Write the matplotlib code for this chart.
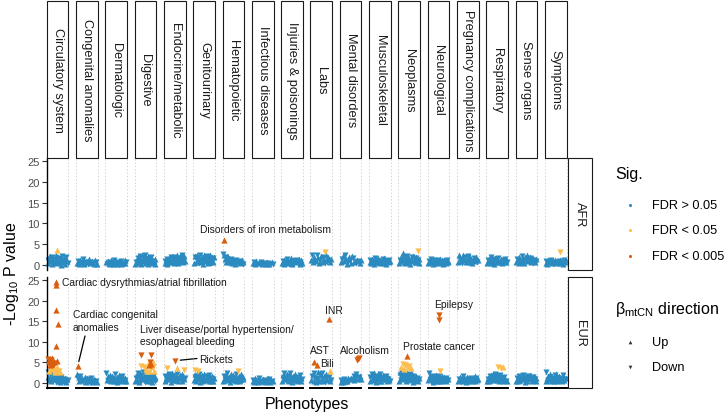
import numpy as np
import matplotlib
matplotlib.use('Agg')
import matplotlib.pyplot as plt
from matplotlib.patches import Rectangle

plt.rcParams['font.family'] = ['Liberation Sans', 'DejaVu Sans']
plt.rcParams['mathtext.fontset'] = 'custom'
plt.rcParams['mathtext.rm'] = 'Liberation Sans'
plt.rcParams['mathtext.it'] = 'Liberation Sans:italic'

categories = ['Circulatory system', 'Congenital anomalies', 'Dermatologic', 'Digestive',
              'Endocrine/metabolic', 'Genitourinary', 'Hematopoietic', 'Infectious diseases',
              'Injuries & poisonings', 'Labs', 'Mental disorders', 'Musculoskeletal',
              'Neoplasms', 'Neurological', 'Pregnancy complications', 'Respiratory',
              'Sense organs', 'Symptoms']
ancestries = ['AFR', 'EUR']

# non-significant phenotypes, signed -log10 P (sign = direction of beta_mtCN), in phecode order
afr_ns = [
    [0.4, -1.2, 1.8, -0.6, 2.1, 0.9, -1.5, 0.3, -2.0, 1.1, 0.7, -0.2, 1.6, -0.9, 2.3, 0.5, -1.3, 1.9, -0.4, 0.8, -1.7, 1.2, 0.1, -2.2, 1.4, -0.7, 0.6, 1.7, -1.0, 0.3, -1.9, 1.3, 0.9, -0.5],
    [0.5, -0.9, 0.3, 1.2, -0.6, 0.8, -1.4, 0.4, 0.2, -0.7, 1.0, 0.6, -0.3, 1.5, -0.8, 0.4, 0.9, -0.5, 0.2, 1.1, -0.6, 0.3],
    [0.6, -0.3, 1.0, 0.4, -0.8, 0.2, 1.1, -0.5, 0.7, 0.3, -1.2, 0.5, 0.9, -0.4, 0.2, 0.8, -0.6, 1.0, 0.3, -0.9, 0.6, 0.4, -0.2, 1.1, 0.5, -0.7],
    [0.3, -0.8, 1.2, 0.5, -1.6, 1.9, 0.7, -2.2, 1.4, 0.2, -1.0, 2.5, 0.9, -1.8, 1.3, 0.4, -2.4, 1.7, 0.6, -1.1, 2.1, 0.3, -1.5, 1.0, 0.8, -2.0, 1.6, 0.5, -0.7, 1.2, 0.9, -0.4, 1.4, 0.2],
    [0.4, -0.9, 1.1, 0.3, -1.4, 0.7, 1.6, -0.5, 1.2, -1.8, 0.6, 0.9, -1.3, 1.9, 0.4, -2.0, 1.5, 0.8, -1.1, 2.3, 0.5, -1.7, 1.4, 2.1, -0.6, 1.0, -2.4, 1.8, 0.7, -1.2, 2.2, 0.9],
    [0.5, -1.9, 2.2, 0.8, -1.4, 2.4, 1.1, -0.4, 1.7, -2.3, 0.6, 1.3, -0.9, 2.0, 0.3, -1.6, 2.5, 1.0, -0.7, 1.9, -2.1, 0.4, 1.5, -1.2, 2.3, 0.8, -0.5, 1.8, 1.2, -1.6, 0.6, 2.0],
    [-2.6, 2.3, 1.4, -1.9, 0.6, 2.1, -1.2, 0.8, 1.7, -0.4, 1.1, -1.5, 0.5, 1.3, -0.9, 1.0, 0.3, -1.2, 0.7, 1.1, -0.5, 0.9, 0.4, -1.0, 0.6, 1.2, -0.3, 0.8],
    [0.4, -0.7, 0.2, 0.9, -0.3, 0.6, 0.5, -0.8, 0.3, 0.7, -0.4, 0.2, 0.6, -0.5, 0.3, -0.2, 0.8, -0.3],
    [0.5, -1.0, 0.3, 1.3, -0.6, 0.8, -1.5, 0.4, 1.1, -0.3, 0.7, 1.6, -0.9, 0.2, 1.2, -0.5, 0.9, -1.3, 0.6, 1.0, -0.4, 1.4, 0.3, -0.8, 1.1, 0.5],
    [1.2, -2.3, 0.6, 2.0, -1.0, 0.9, -2.5, 1.6, 0.4, -1.3, 2.2, 0.7, -1.8, 1.1, -0.5, 2.4, 1.4, -0.8, 1.9, -1.1, 0.6, 1.5],
    [0.6, -1.4, 2.2, 0.9, -2.5, 1.5, 0.3, -0.8, 1.9, -1.2, 0.5, 2.1, -1.6, 0.7, 1.0, -0.4, 1.3, -0.9, 0.5, 1.1],
    [0.6, -1.1, 0.4, 1.5, -0.8, 1.2, 0.3, -1.6, 0.9, 1.4, -0.5, 0.7, 1.7, -1.0, 0.4, 1.3, -0.6, 1.1, 0.8, -1.4, 0.5, 1.6, -0.9, 0.3, 1.2, -0.7, 1.0, 0.6, -1.3, 0.9],
    [0.5, -1.3, 0.9, 1.8, -0.6, 1.2, 2.8, -1.9, 0.8, 0.4, -1.5, 1.1, -2.1, 0.7, 1.6, -0.9, 0.3, 1.4, -1.8, 1.0, 2.2, -0.5, 1.3, 0.6, -1.7, 1.9, 0.8, -1.1, 1.5, 0.4],
    [0.4, -0.9, 1.2, 0.6, -1.4, 0.8, 0.3, -1.1, 1.3, 0.5, -0.7, 1.0, 0.9, -1.3, 0.4, 1.4, -0.6, 0.8, 1.1, -0.5, 0.3, 1.2, -1.0, 0.7, 0.5, -1.2, 0.9, 0.6],
    [0.6, 2.3, -1.2, 0.9, 1.7, -0.5, 2.4, 1.1, -1.9, 0.7, 1.4, -2.2, 0.8, 1.9, -1.0, 0.5, 1.3, -1.6, 0.9, 2.0, -0.7, 1.2],
    [0.5, -1.2, 0.9, 1.5, -0.7, 0.4, -1.8, 1.1, 0.8, -1.4, 0.3, 1.6, -0.9, 0.6, 1.3, -1.7, 0.7, 1.0, -0.5, 1.5, 0.4, -1.1, 1.2, 0.8, -1.5, 0.6, 1.4, -0.8],
    [0.6, -1.5, 1.1, 0.4, 1.9, -0.8, 1.3, -2.1, 0.7, 1.6, -1.0, 0.5, 1.8, -1.3, 0.9, 2.5, 1.4, -0.6, 2.0, -1.7, 0.8, 1.2, -0.4, 1.7, -1.1, 0.6, 1.5, -0.9],
    [0.5, -0.9, 0.3, 1.1, -0.6, 0.8, -1.2, 0.4, 1.0, -0.3, 0.7, 1.3, -0.8, 0.5, 0.9, -1.0, 0.4, 1.2, -0.6, 0.8, 0.3, -1.1, 0.6, 1.3],
]

eur_ns = [
    [1.4, -2.6, 2.8, 0.8, -2.2, 1.5, 0.4, -1.9, 2.5, 1.1, -0.6, 1.7, -2.3, 0.9, 1.3, -0.2, 2.0, -1.2, 0.6, 1.6, -1.8, 0.3, 1.0, -1.5, 0.7, 1.4, -0.4, 1.2, 0.5, -1.0, 0.8, 1.1, -0.6, 0.3, 0.9, -0.8],
    [2.3, -0.9, 1.4, 0.4, -1.8, 0.7, 1.1, -0.3, 0.9, 1.5, -0.6, 0.2, 1.2, -1.0, 0.5, 0.8, -1.3, 0.3, 0.6, -0.4, 1.0, 0.7, -0.5, 0.3],
    [-2.4, 0.8, 1.6, -0.5, 1.1, 2.0, -1.3, 0.4, 1.7, -0.9, 0.6, 1.3, -2.1, 0.9, 0.3, 1.5, -0.7, 1.9, 0.5, -1.2, 1.0, 0.7, -1.6, 1.4, 0.4, -0.8, 1.1, 0.6],
    [0.5, -1.3, 2.1, 0.8, -2.5, 1.6, 0.3, -1.9, 2.4, 1.1, -0.6, 1.8, -2.6, 0.9, 1.4, -0.3, 2.2, -1.1, 0.7, 1.7, -2.0, 0.4, 1.2, -1.5, 2.3, 0.6, -0.9, 1.5, 0.3, -1.8, 1.0, 2.0, -0.5, 1.3],
    [0.6, -1.6, 1.2, 2.3, -0.4, 1.8, 0.9, -2.1, 1.4, 0.3, -1.1, 2.5, 0.7, -1.7, 1.0, 2.0, -0.5, 1.5, 0.8, -2.2, 1.3, 0.4, -0.9, 1.9, 1.1, -1.4, 0.6, 2.1, -0.7, 1.6, 0.9, -1.2],
    [0.7, -1.4, 2.1, 0.4, -1.8, 1.2, 0.9, -2.3, 1.6, 0.3, -1.0, 1.9, 0.6, -1.5, 1.3, 2.2, -0.5, 1.0, 0.8, -1.7, 1.4, 0.4, -2.0, 1.1, 0.6, -1.2, 1.8, 0.5, -0.9, 1.3],
    [0.5, -1.6, 2.0, 1.2, -0.4, 1.7, -2.4, 0.8, 1.4, -1.0, 0.3, 2.2, -1.3, 0.7, 1.9, -0.6, 1.1, 1.5, -2.1, 0.4, 1.3, -0.8, 1.8, 0.6, -1.2, 1.0, 2.1, -0.5, 0.9, 1.4],
    [0.4, -0.8, 0.2, 1.1, -0.5, 0.7, 0.3, -1.2, 0.6, 0.9, -0.3, 0.5, 1.0, -0.7, 0.2, 0.8, -0.4, 0.6, 1.2, -0.9, 0.3, 0.7, -0.5, 0.4],
    [0.6, -1.3, 1.9, -2.4, 0.9, 1.5, -0.5, 2.1, 1.2, -1.7, 0.4, -2.4, 1.0, 1.6, -0.8, 0.3, 1.8, -1.2, 0.7, 2.2, -1.5, 1.1, 0.5, -0.9, 1.4, 0.8, -1.9, 1.2, 0.6, -1.0],
    [0.8, -1.7, 2.2, 0.5, -2.5, 1.4, 0.3, -1.1, 2.6, -0.6, 0.4, -2.1, 1.9, 0.9, -2.4, 0.5, 1.6, -0.3, 2.3, -1.2, 0.7, 2.0, -1.5, 0.4, 1.2, -0.8],
    [0.3, -0.7, 0.5, 0.2, -0.9, 0.4, 0.8, -0.3, 0.6, 1.1, -0.5, 0.9, 1.3, -0.8, 1.5, 0.7, -1.6, 1.2, -2.2, 1.9, 0.9, -1.4, 1.7, 1.0],
    [0.5, -1.4, 1.9, 0.8, -2.2, 1.2, 2.4, -0.6, 1.6, 0.3, -1.8, 1.0, 2.1, -0.9, 1.4, 0.6, -2.3, 1.7, 0.4, -1.1, 1.3, 2.0, -0.7, 0.9, 1.5, -1.6, 0.5, 1.8, -1.0, 0.7, 1.2, -0.4],
    [0.6, -2.0, 2.6, 1.3, -0.8, 2.3, 1.7, -2.5, 0.9, 1.9, -1.4, 2.2, 0.4, -1.8, 2.4, 1.1, -0.6, 2.0, 1.5, -2.3, 0.7, 1.6, -1.2, 2.1, 0.3, -1.7, 1.4, 1.0, -0.5, 1.8, 0.8, -1.3, 1.2, 0.5, -0.9, 1.1],
    [0.7, -2.5, 1.4, 1.9, -0.5, 1.1, 0.3, -1.7, 1.6, 0.8, -1.2, 2.0, 0.4, -1.4, 1.0, 0.6, -1.8, 1.3, 0.5, -0.9, 1.7, 1.1, -0.4, 1.5, 0.8, -1.3, 0.6, 1.2, -0.7, 0.9],
    [0.4, -1.0, 0.7, 1.4, -0.3, 0.9, -1.6, 0.5, 1.2, -0.6, 0.3, 1.5, -0.9, 0.6, 1.1, -0.4, 0.8, -1.3, 0.5, 1.0, -0.7, 1.6, 0.4, -1.1, 0.7, 0.9],
    [0.4, -0.9, 1.3, 0.6, -1.7, 1.0, 2.0, -0.5, 1.5, 2.3, -1.2, 0.8, 1.9, -2.2, 1.4, 0.7, 2.1, -1.6, 1.1, 0.5, -1.9, 1.7, 0.9, -1.3, 1.2, 0.6, -1.5, 0.8, 1.0, -0.4, 0.7, 0.5],
    [0.6, -1.3, 1.1, 0.4, -1.8, 1.5, 0.8, -0.5, 1.7, -2.0, 0.9, 1.3, -0.7, 0.3, 1.9, -1.1, 0.6, 1.4, -1.6, 1.0, 2.0, -0.8, 0.5, 1.2, -1.4, 0.7, 1.8, -0.9, 1.1, 0.6],
    [0.5, -2.6, 1.2, 1.8, -0.7, 1.0, 2.1, -1.4, 0.4, 1.6, -0.9, 1.3, 0.6, -1.9, 0.9, 2.2, -1.1, 0.5, 1.4, -0.6, 1.7, 0.8, -1.3, 1.1, 0.4, -2.0, 1.5, 0.7, -1.0, 1.2],
]

# significant phenotypes: (category, rank within category 0-1, signed -log10 P, FDR level 1: <0.05, 2: <0.005)
afr_sig = [
    ('Circulatory system', 0.47, 3.7, 1),
    ('Hematopoietic', 0.03, 6.1, 2),
    ('Labs', 0.67, -3.2, 1),
    ('Neoplasms', 0.95, -3.3, 1),
    ('Symptoms', 0.73, -3.1, 1),
]

eur_sig = [
    ('Circulatory system', 0.43, 24.5, 2), ('Circulatory system', 0.43, 23.7, 2),
    ('Circulatory system', 0.43, 17.6, 2), ('Circulatory system', 0.53, 14.2, 2),
    ('Circulatory system', 0.41, 8.9, 2), ('Circulatory system', 0.02, -5.9, 2),
    ('Circulatory system', 0.08, 5.3, 2), ('Circulatory system', 0.15, -5.6, 2),
    ('Circulatory system', 0.20, 4.7, 2), ('Circulatory system', 0.27, -4.4, 2),
    ('Circulatory system', 0.33, 5.0, 2), ('Circulatory system', 0.48, 5.3, 2),
    ('Circulatory system', 0.12, 4.3, 2), ('Circulatory system', 0.38, -4.8, 2),
    ('Circulatory system', 0.05, -4.6, 2), ('Circulatory system', 0.22, 6.0, 2),
    ('Circulatory system', 0.05, 3.0, 1), ('Circulatory system', 0.18, 3.7, 1),
    ('Circulatory system', 0.25, -2.8, 1), ('Circulatory system', 0.30, 3.4, 1),
    ('Circulatory system', 0.40, -3.0, 1), ('Circulatory system', 0.45, 4.0, 1),
    ('Circulatory system', 0.50, 3.2, 1), ('Circulatory system', 0.35, 2.7, 1),
    ('Circulatory system', 0.10, -3.6, 1), ('Circulatory system', 0.58, -3.0, 1),
    ('Circulatory system', 0.62, 2.6, 1),
    ('Congenital anomalies', 0.05, 4.2, 2),
    ('Digestive', 0.27, -6.7, 2), ('Digestive', 0.77, -6.7, 2), ('Digestive', 0.74, -5.2, 2),
    ('Digestive', 0.78, 4.6, 2), ('Digestive', 0.70, 4.3, 2),
    ('Digestive', 0.28, -4.1, 1), ('Digestive', 0.45, -3.8, 1), ('Digestive', 0.51, 3.4, 1),
    ('Digestive', 0.62, 4.6, 1), ('Digestive', 0.68, 3.0, 1), ('Digestive', 0.86, 5.0, 1),
    ('Digestive', 0.88, -4.0, 1), ('Digestive', 0.58, 2.9, 1), ('Digestive', 0.92, 2.8, 1),
    ('Digestive', 0.80, -3.3, 1),
    ('Endocrine/metabolic', 0.13, -3.7, 1), ('Endocrine/metabolic', 0.50, -5.4, 2),
    ('Endocrine/metabolic', 0.63, 3.7, 1), ('Endocrine/metabolic', 0.95, -3.1, 1),
    ('Genitourinary', 0.04, -3.1, 1), ('Genitourinary', 0.20, -3.0, 1),
    ('Hematopoietic', 0.72, -3.0, 1),
    ('Labs', 0.15, 5.0, 2), ('Labs', 0.30, 4.4, 2), ('Labs', 0.92, 2.8, 1), ('Labs', 0.87, 15.5, 2),
    ('Mental disorders', 0.80, -5.5, 2), ('Mental disorders', 0.86, -5.9, 2),
    ('Mental disorders', 0.92, -6.0, 2),
    ('Neoplasms', 0.38, 6.5, 2),
    ('Neoplasms', 0.10, 4.0, 1), ('Neoplasms', 0.20, -4.6, 1), ('Neoplasms', 0.30, -4.3, 1),
    ('Neoplasms', 0.40, 4.6, 1), ('Neoplasms', 0.50, -4.2, 1), ('Neoplasms', 0.58, 3.6, 1),
    ('Neoplasms', 0.25, 3.5, 1), ('Neoplasms', 0.45, 3.8, 1),
    ('Neurological', 0.53, -16.5, 2), ('Neurological', 0.53, -15.3, 2),
    ('Neurological', 0.57, -3.0, 1),
    ('Respiratory', 0.55, -3.8, 1), ('Respiratory', 0.72, -3.7, 1), ('Respiratory', 0.78, 3.9, 1),
]

sig_colors = {0: '#2B8BC0', 1: '#FDBE4F', 2: '#D95F0E'}
sig_labels = ['FDR > 0.05', 'FDR < 0.05', 'FDR < 0.005']

# ---- layout (pixels) ----
W, H = 726, 414
PL, PSTEP, PW = 46.7, 29.3, 21.7
row_top = {'AFR': 159, 'EUR': 278}
row_bot = {'AFR': 271, 'EUR': 389}
YLIM = (-1.22, 25.73)
XLIM = (-0.04, 1.04)


def fx(x):
    return x / W


def fy(y):
    return 1 - y / H


def draw_points(ax, x, vals, lvl):
    vals = np.asarray(vals, dtype=float)
    x = np.asarray(x, dtype=float)
    up = vals >= 0
    for m, mask in (('^', up), ('v', ~up)):
        if mask.any():
            ax.scatter(x[mask], np.abs(vals[mask]), marker=m, s=19 if lvl == 0 else 20,
                       color=sig_colors[lvl], linewidths=0, clip_on=False, zorder=2 + lvl)


fig = plt.figure(figsize=(W / 100, H / 100), dpi=100)

axes = {}
for anc, ns, sig in (('AFR', afr_ns, afr_sig), ('EUR', eur_ns, eur_sig)):
    for i, cat in enumerate(categories):
        x0 = PL + i * PSTEP
        ax = fig.add_axes([fx(x0), fy(row_bot[anc]), PW / W, (row_bot[anc] - row_top[anc]) / H])
        axes[(anc, cat)] = ax
        ax.set_xlim(*XLIM)
        ax.set_ylim(*YLIM)
        for xv in XLIM:
            ax.axvline(xv, color='#c8c8c8', lw=0.6, ls=(0, (1.5, 2.5)), clip_on=False, zorder=0)
        vals = ns[i]
        draw_points(ax, np.linspace(0, 1, len(vals)), vals, 0)
        for lvl in (1, 2):
            pts = [(r, v) for c, r, v, l in sig if c == cat and l == lvl]
            if pts:
                draw_points(ax, [p[0] for p in pts], [p[1] for p in pts], lvl)
        for s in ax.spines.values():
            s.set_visible(False)
        ax.set_xticks([])
        ax.patch.set_alpha(0)
        if i == 0:
            ax.spines['left'].set_visible(True)
            ax.spines['left'].set_linewidth(1.0)
            ax.spines['left'].set_color('black')
            ax.set_yticks([0, 5, 10, 15, 20, 25])
            ax.tick_params(axis='y', length=3.5, width=0.8, color='#333333',
                           labelcolor='#4d4d4d', labelsize=8, pad=1.5)
        else:
            ax.set_yticks([])
        if anc == 'EUR':
            ax.spines['bottom'].set_visible(True)
            ax.spines['bottom'].set_linewidth(1.4)
            ax.spines['bottom'].set_color('black')

# ---- strips ----
for i, cat in enumerate(categories):
    x0 = PL + i * PSTEP
    fig.add_artist(Rectangle((fx(x0), fy(159)), PW / W, 157 / H, transform=fig.transFigure,
                             fill=False, ec='#1a1a1a', lw=0.8))
    fig.text(fx(x0 + PW / 2), fy(80.5), cat, rotation=-90, ha='center', va='center',
             fontsize=9.2, color='#1a1a1a')
for anc in ancestries:
    fig.add_artist(Rectangle((fx(568), fy(row_bot[anc])), 24 / W,
                             (row_bot[anc] - row_top[anc]) / H, transform=fig.transFigure,
                             fill=False, ec='#1a1a1a', lw=0.8))
    fig.text(fx(580), fy((row_top[anc] + row_bot[anc]) / 2), anc, rotation=-90,
             ha='center', va='center', fontsize=9.2, color='#1a1a1a')

# ---- labels ----
labels = [
    ('Disorders of iron metabolism', 265, 230, 'center'),
    ('Cardiac dysrythmias/atrial fibrillation', 62, 282.5, 'left'),
    ('Cardiac congenital\nanomalies', 73, 321.7, 'left'),
    ('Liver disease/portal hypertension/\nesophageal bleeding', 140.5, 336.2, 'left'),
    ('Rickets', 199, 360, 'left'),
    ('AST', 310, 350.7, 'left'),
    ('Bili', 320.5, 364, 'left'),
    ('INR', 325, 311, 'left'),
    ('Alcoholism', 364.5, 350.7, 'center'),
    ('Prostate cancer', 439, 347.3, 'center'),
    ('Epilepsy', 454, 305, 'center'),
]
for txt, x, y, ha in labels:
    fig.text(fx(x), fy(y), txt, ha=ha, va='center', fontsize=7.4, color='#1a1a1a',
             linespacing=1.3)

# repel segments
ax = axes[('EUR', 'Congenital anomalies')]
ax.annotate('', xy=(0.05, 4.2), xytext=(85, H - 337), textcoords='figure pixels',
            arrowprops=dict(arrowstyle='-', lw=0.9, color='black', shrinkA=0, shrinkB=3))
ax = axes[('EUR', 'Endocrine/metabolic')]
ax.annotate('', xy=(0.5, 5.4), xytext=(197, H - 359.5), textcoords='figure pixels',
            arrowprops=dict(arrowstyle='-', lw=0.9, color='black', shrinkA=0, shrinkB=4))

# ---- axis titles ----
fig.text(fx(307), fy(405), 'Phenotypes', ha='center', va='center', fontsize=11.5)
fig.text(fx(12), fy(274), '-Log$_{\\mathrm{10}}$ P value', rotation=90, ha='center',
         va='center', fontsize=11.5)

# ---- legend ----
lax = fig.add_axes([0, 0, 1, 1])
lax.set_xlim(0, W)
lax.set_ylim(H, 0)
lax.axis('off')
lax.patch.set_alpha(0)
fig.text(fx(615), fy(175), 'Sig.', ha='left', va='center', fontsize=11.5)
for k, (lab, yy) in enumerate(zip(sig_labels, (206, 231, 257))):
    lax.scatter([630], [yy], s=5, color=sig_colors[k], linewidths=0)
    fig.text(fx(652), fy(yy), lab, ha='left', va='center', fontsize=9.2)
fig.text(fx(615), fy(310), 'β$_{\\mathrm{mtCN}}$ direction', ha='left', va='center', fontsize=11.5)
for m, lab, yy in (('^', 'Up', 343), ('v', 'Down', 368)):
    lax.scatter([630], [yy], s=7, marker=m, color='#333333', linewidths=0)
    fig.text(fx(652), fy(yy), lab, ha='left', va='center', fontsize=9.2)

fig.savefig('out.png', dpi=100)
